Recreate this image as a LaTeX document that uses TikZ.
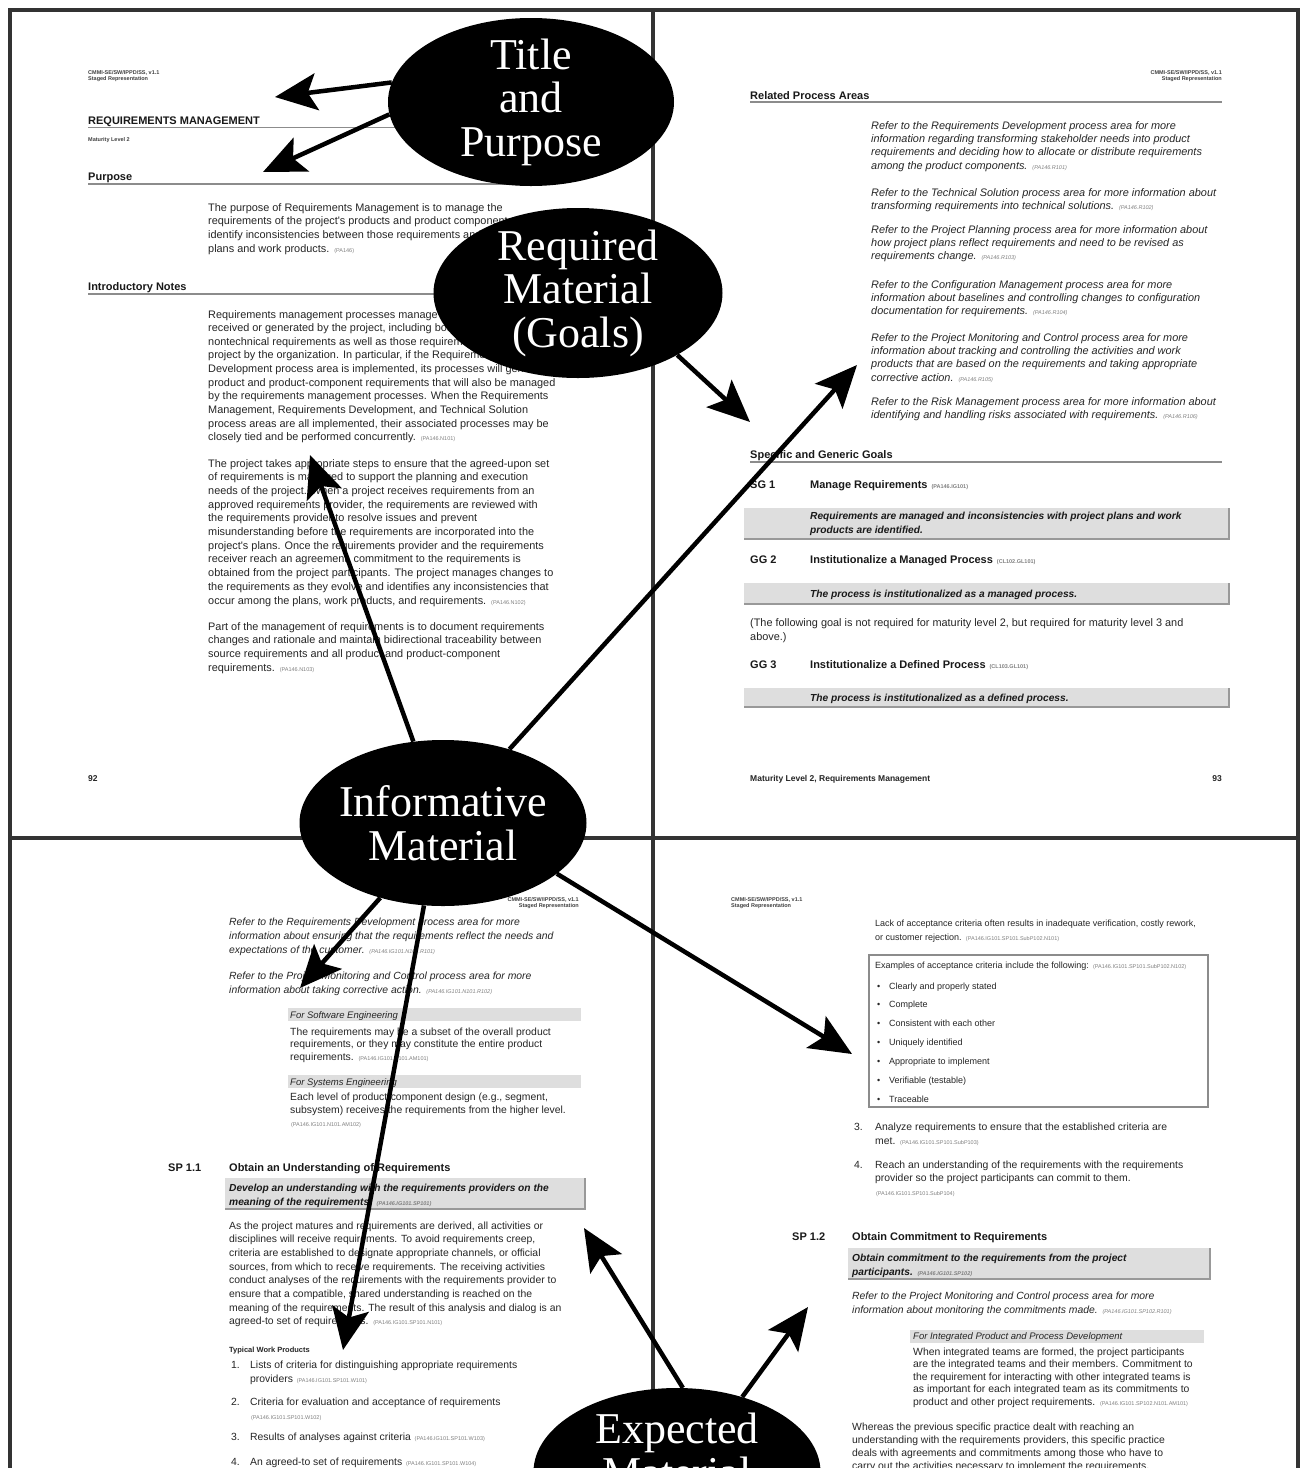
\documentclass[tikz,border=0pt]{standalone}
\usepackage{fontspec}
\newfontfamily\docsans{Liberation Sans}
\newfontfamily\calloutserif{Liberation Serif}
\usetikzlibrary{arrows.meta,shapes.geometric}

% small grey paragraph identifiers
\newcommand\pacode[1]{{\fontsize{5.5}{6}\selectfont\color{black!50}\,(#1)}}
% a block of text lines, one node per line: name, x, first baseline, line step, style, lines
\newcommand\txtlines[6]{%
  \foreach \t [count=\i] in {#6}{%
    \node[#5,anchor=base west] (#1-\i) at (#2,{#3+(\i-1)*#4}) {\t};}}

\tikzset{
  x=1pt, y=-1pt,
  every node/.style={inner sep=0pt},
  bodytxt/.style={font=\docsans\fontsize{10.9}{13}\selectfont, text=black!85},
  bodyit/.style={font=\docsans\itshape\fontsize{10.9}{13}\selectfont, text=black!85},
  lowtxt/.style={font=\docsans\fontsize{10.4}{13}\selectfont, text=black!85},
  lowit/.style={font=\docsans\itshape\fontsize{10.4}{13}\selectfont, text=black!85},
  boxtxt/.style={font=\docsans\fontsize{9}{11}\selectfont, text=black!85},
  boxit/.style={font=\docsans\itshape\fontsize{9.5}{11}\selectfont, text=black!85},
  headtxt/.style={font=\docsans\bfseries\fontsize{11}{13}\selectfont, text=black!90},
  boldit/.style={font=\docsans\bfseries\itshape\fontsize{10.2}{13}\selectfont, text=black!90},
  tinytxt/.style={font=\docsans\bfseries\fontsize{5.5}{6}\selectfont, text=black!75},
  foottxt/.style={font=\docsans\bfseries\fontsize{8.5}{10}\selectfont, text=black!85},
  secrule/.style={draw=black!45, line width=1.4pt},
  shade/.style={fill=black!13},
  shadeedge/.style={draw=black!40, line width=1.3pt},
  frameline/.style={draw=black!80, line width=3.5pt},
  ellnode/.style={ellipse, fill=black, text=white, align=center,
    inner xsep=-8pt, inner ysep=-6pt,
    font=\calloutserif\fontsize{44}{43.5}\selectfont},
  pointer/.style={draw=black, line width=4.5pt,
    -{Stealth[length=42pt,width=37pt,inset=9pt]}},
}

\begin{document}
\begin{tikzpicture}
\useasboundingbox (0,0) rectangle (1303,1468);
\clip (0,0) rectangle (1303,1468);
\fill[white] (0,0) rectangle (1303,1468);

% ---------------- page 92 (upper left) ----------------
\node[tinytxt,anchor=base west] (p92-h1) at (88,74) {CMMI-SE/SW/IPPD/SS, v1.1};
\node[tinytxt,anchor=base west] (p92-h2) at (88,80.5) {Staged Representation};
\node[headtxt,anchor=base west] (p92-title) at (88,124) {REQUIREMENTS MANAGEMENT};
\draw[secrule] (88,127.5) -- (556,127.5);
\node[tinytxt,anchor=base west] (p92-ml) at (88,141) {Maturity Level 2};
\node[headtxt,anchor=base west] (p92-purp) at (88,180) {Purpose};
\draw[secrule] (88,184) -- (556,184);
\txtlines{p92a}{208}{211}{13.7}{bodytxt}{
 {The purpose of Requirements Management is to manage the},
 {requirements of the project's products and product components and to},
 {identify inconsistencies between those requirements and the project's},
 {plans and work products. \pacode{PA146}}}
\node[headtxt,anchor=base west] (p92-intro) at (88,290) {Introductory Notes};
\draw[secrule] (88,294) -- (556,294);
\txtlines{p92b}{208}{318}{13.65}{bodytxt}{
 {Requirements management processes manage all requirements},
 {received or generated by the project, including both technical and},
 {nontechnical requirements as well as those requirements levied on the},
 {project by the organization. In particular, if the Requirements},
 {Development process area is implemented, its processes will generate},
 {product and product-component requirements that will also be managed},
 {by the requirements management processes. When the Requirements},
 {Management, Requirements Development, and Technical Solution},
 {process areas are all implemented, their associated processes may be},
 {closely tied and be performed concurrently. \pacode{PA146.N101}}}
\txtlines{p92c}{208}{467}{13.7}{bodytxt}{
 {The project takes appropriate steps to ensure that the agreed-upon set},
 {of requirements is managed to support the planning and execution},
 {needs of the project. When a project receives requirements from an},
 {approved requirements provider, the requirements are reviewed with},
 {the requirements provider to resolve issues and prevent},
 {misunderstanding before the requirements are incorporated into the},
 {project's plans. Once the requirements provider and the requirements},
 {receiver reach an agreement, commitment to the requirements is},
 {obtained from the project participants. The project manages changes to},
 {the requirements as they evolve and identifies any inconsistencies that},
 {occur among the plans, work products, and requirements. \pacode{PA146.N102}}}
\txtlines{p92d}{208}{630}{13.7}{bodytxt}{
 {Part of the management of requirements is to document requirements},
 {changes and rationale and maintain bidirectional traceability between},
 {source requirements and all product and product-component},
 {requirements. \pacode{PA146.N103}}}
\node[foottxt,anchor=base west] (p92-num) at (88,781) {92};

% ---------------- page 93 (upper right) ----------------
\node[tinytxt,anchor=base east] (p93-h1) at (1222,74) {CMMI-SE/SW/IPPD/SS, v1.1};
\node[tinytxt,anchor=base east] (p93-h2) at (1222,80.5) {Staged Representation};
\node[headtxt,anchor=base west] (p93-rel) at (750,99) {Related Process Areas};
\draw[secrule] (750,102) -- (1222,102);
\txtlines{p93a}{871}{129}{13.4}{bodyit}{
 {Refer to the Requirements Development process area for more},
 {information regarding transforming stakeholder needs into product},
 {requirements and deciding how to allocate or distribute requirements},
 {among the product components. \pacode{PA146.R101}}}
\txtlines{p93b}{871}{196}{13.4}{bodyit}{
 {Refer to the Technical Solution process area for more information about},
 {transforming requirements into technical solutions. \pacode{PA146.R102}}}
\txtlines{p93c}{871}{233}{13.4}{bodyit}{
 {Refer to the Project Planning process area for more information about},
 {how project plans reflect requirements and need to be revised as},
 {requirements change. \pacode{PA146.R103}}}
\txtlines{p93d}{871}{288}{13.4}{bodyit}{
 {Refer to the Configuration Management process area for more},
 {information about baselines and controlling changes to configuration},
 {documentation for requirements. \pacode{PA146.R104}}}
\txtlines{p93e}{871}{341}{13.4}{bodyit}{
 {Refer to the Project Monitoring and Control process area for more},
 {information about tracking and controlling the activities and work},
 {products that are based on the requirements and taking appropriate},
 {corrective action. \pacode{PA146.R105}}}
\txtlines{p93f}{871}{405}{13.4}{bodyit}{
 {Refer to the Risk Management process area for more information about},
 {identifying and handling risks associated with requirements. \pacode{PA146.R106}}}
\node[headtxt,anchor=base west] (p93-goals) at (750,458) {Specific and Generic Goals};
\draw[secrule] (750,462) -- (1222,462);
\node[headtxt,anchor=base west] (p93-sg1) at (750,488) {SG 1};
\node[headtxt,anchor=base west] (p93-sg1t) at (810,488) {Manage Requirements \pacode{PA146.IG101}};
\fill[shade] (744,508) rectangle (1229,539);
\draw[shadeedge] (744,539) -- (1229,539) -- (1229,508);
\txtlines{p93g}{810}{519}{14.5}{boldit}{
 {Requirements are managed and inconsistencies with project plans and work},
 {products are identified.}}
\node[headtxt,anchor=base west] (p93-gg2) at (750,563) {GG 2};
\node[headtxt,anchor=base west] (p93-gg2t) at (810,563) {Institutionalize a Managed Process \pacode{CL102.GL101}};
\fill[shade] (744,583) rectangle (1229,604);
\draw[shadeedge] (744,604) -- (1229,604) -- (1229,583);
\node[boldit,anchor=base west] (p93-gg2s) at (810,597) {The process is institutionalized as a managed process.};
\txtlines{p93h}{750}{626}{14}{bodytxt}{
 {(The following goal is not required for maturity level 2, but required for maturity level 3 and},
 {above.)}}
\node[headtxt,anchor=base west] (p93-gg3) at (750,668) {GG 3};
\node[headtxt,anchor=base west] (p93-gg3t) at (810,668) {Institutionalize a Defined Process \pacode{CL103.GL101}};
\fill[shade] (744,688) rectangle (1229,707);
\draw[shadeedge] (744,707) -- (1229,707) -- (1229,688);
\node[boldit,anchor=base west] (p93-gg3s) at (810,701) {The process is institutionalized as a defined process.};
\node[foottxt,anchor=base west] (p93-foot) at (750,781) {Maturity Level 2, Requirements Management};
\node[foottxt,anchor=base east] (p93-num) at (1222,781) {93};

% ---------------- lower left page ----------------
\node[tinytxt,anchor=base east] (p94-h1) at (579,901) {CMMI-SE/SW/IPPD/SS, v1.1};
\node[tinytxt,anchor=base east] (p94-h2) at (579,907.5) {Staged Representation};
\txtlines{p94a}{229}{925}{14}{lowit}{
 {Refer to the Requirements Development process area for more},
 {information about ensuring that the requirements reflect the needs and},
 {expectations of the customer. \pacode{PA146.IG101.N101.R101}}}
\txtlines{p94b}{229}{979}{14}{lowit}{
 {Refer to the Project Monitoring and Control process area for more},
 {information about taking corrective action. \pacode{PA146.IG101.N101.R102}}}
\fill[shade] (288,1008) rectangle (581,1021);
\node[boxit,anchor=base west] (p94-sw) at (290,1018) {For Software Engineering};
\txtlines{p94c}{290}{1035}{12.5}{lowtxt}{
 {The requirements may be a subset of the overall product},
 {requirements, or they may constitute the entire product},
 {requirements. \pacode{PA146.IG101.N101.AM101}}}
\fill[shade] (288,1075) rectangle (581,1088);
\node[boxit,anchor=base west] (p94-se) at (290,1085) {For Systems Engineering};
\txtlines{p94d}{290}{1100}{13}{lowtxt}{
 {Each level of product-component design (e.g., segment,},
 {subsystem) receives the requirements from the higher level.},
 {\pacode{PA146.IG101.N101.AM102}}}
\node[headtxt,anchor=base west] (p94-sp) at (168,1171) {SP 1.1};
\node[headtxt,anchor=base west] (p94-spt) at (229,1171) {Obtain an Understanding of Requirements};
\fill[shade] (225,1178) rectangle (585,1209);
\draw[shadeedge] (225,1209) -- (585,1209) -- (585,1178);
\txtlines{p94e}{229}{1191}{14.3}{boldit}{
 {Develop an understanding with the requirements providers on the},
 {meaning of the requirements. \pacode{PA146.IG101.SP101}}}
\txtlines{p94f}{229}{1229}{13.7}{lowtxt}{
 {As the project matures and requirements are derived, all activities or},
 {disciplines will receive requirements. To avoid requirements creep,},
 {criteria are established to designate appropriate channels, or official},
 {sources, from which to receive requirements. The receiving activities},
 {conduct analyses of the requirements with the requirements provider to},
 {ensure that a compatible, shared understanding is reached on the},
 {meaning of the requirements. The result of this analysis and dialog is an},
 {agreed-to set of requirements. \pacode{PA146.IG101.SP101.N101}}}
\node[font=\docsans\bfseries\fontsize{7.5}{9}\selectfont,text=black!85,anchor=base west] (p94-twp) at (229,1352) {Typical Work Products};
\node[lowtxt,anchor=base west] (p94-n1) at (231,1368) {1.};
\txtlines{p94g}{250}{1368}{14}{lowtxt}{
 {Lists of criteria for distinguishing appropriate requirements},
 {providers \pacode{PA146.IG101.SP101.W101}}}
\node[lowtxt,anchor=base west] (p94-n2) at (231,1405) {2.};
\txtlines{p94h}{250}{1405}{14}{lowtxt}{
 {Criteria for evaluation and acceptance of requirements},
 {\pacode{PA146.IG101.SP101.W102}}}
\node[lowtxt,anchor=base west] (p94-n3) at (231,1440) {3.};
\node[lowtxt,anchor=base west] (p94-w3) at (250,1440) {Results of analyses against criteria \pacode{PA146.IG101.SP101.W103}};
\node[lowtxt,anchor=base west] (p94-n4) at (231,1465) {4.};
\node[lowtxt,anchor=base west] (p94-w4) at (250,1465) {An agreed-to set of requirements \pacode{PA146.IG101.SP101.W104}};

% ---------------- lower right page ----------------
\node[tinytxt,anchor=base west] (p95-h1) at (731,901) {CMMI-SE/SW/IPPD/SS, v1.1};
\node[tinytxt,anchor=base west] (p95-h2) at (731,907.5) {Staged Representation};
\txtlines{p95a}{875}{926}{14}{boxtxt}{
 {Lack of acceptance criteria often results in inadequate verification, costly rework,},
 {or customer rejection. \pacode{PA146.IG101.SP101.SubP102.N101}}}
\draw[draw=black!45, line width=1.6pt] (869,955) rectangle (1208,1107);
\node[boxtxt,anchor=base west] (p95-ex) at (875,968) {Examples of acceptance criteria include the following: \pacode{PA146.IG101.SP101.SubP102.N102}};
\foreach \t [count=\i] in {Clearly and properly stated, Complete, Consistent with each other,
  Uniquely identified, Appropriate to implement, Verifiable (testable), Traceable}{%
  \node[boxtxt,anchor=base west] (p95-b\i) at (877,{989+(\i-1)*18.9}) {\textbullet};
  \node[boxtxt,anchor=base west] (p95-c\i) at (889,{989+(\i-1)*18.9}) {\t};}
\node[lowtxt,anchor=base west] (p95-n3) at (854,1130) {3.};
\txtlines{p95b}{875}{1130}{14.5}{lowtxt}{
 {Analyze requirements to ensure that the established criteria are},
 {met. \pacode{PA146.IG101.SP101.SubP103}}}
\node[lowtxt,anchor=base west] (p95-n4) at (854,1168) {4.};
\txtlines{p95c}{875}{1168}{13.8}{lowtxt}{
 {Reach an understanding of the requirements with the requirements},
 {provider so the project participants can commit to them.},
 {\pacode{PA146.IG101.SP101.SubP104}}}
\node[headtxt,anchor=base west] (p95-sp) at (792,1240) {SP 1.2};
\node[headtxt,anchor=base west] (p95-spt) at (852,1240) {Obtain Commitment to Requirements};
\fill[shade] (848,1248) rectangle (1210,1279);
\draw[shadeedge] (848,1279) -- (1210,1279) -- (1210,1248);
\txtlines{p95d}{852}{1261}{14}{boldit}{
 {Obtain commitment to the requirements from the project},
 {participants. \pacode{PA146.IG101.SP102}}}
\txtlines{p95e}{852}{1299}{14}{lowit}{
 {Refer to the Project Monitoring and Control process area for more},
 {information about monitoring the commitments made. \pacode{PA146.IG101.SP102.R101}}}
\fill[shade] (910,1330) rectangle (1204,1343);
\node[boxit,anchor=base west] (p95-ippd) at (913,1339) {For Integrated Product and Process Development};
\txtlines{p95f}{913}{1355}{12.5}{lowtxt}{
 {When integrated teams are formed, the project participants},
 {are the integrated teams and their members. Commitment to},
 {the requirement for interacting with other integrated teams is},
 {as important for each integrated team as its commitments to},
 {product and other project requirements. \pacode{PA146.IG101.SP102.N101.AM101}}}
\txtlines{p95g}{852}{1430}{13.3}{lowtxt}{
 {Whereas the previous specific practice dealt with reaching an},
 {understanding with the requirements providers, this specific practice},
 {deals with agreements and commitments among those who have to},
 {carry out the activities necessary to implement the requirements.}}

% ---------------- page frames ----------------
\draw[frameline] (10,1500) -- (10,10) -- (1298,10) -- (1298,1500);
\draw[frameline] (653,10) -- (653,1500);
\draw[frameline] (10,838) -- (1298,838);

% ---------------- callout ellipses ----------------
\node[ellnode, minimum width=286pt, minimum height=168pt] (title) at (531,102) {Title\\and\\Purpose};
\node[ellnode, minimum width=289pt, minimum height=170pt] (required) at (578,293) {Required\\Material\\(Goals)};
\node[ellnode, minimum width=287pt, minimum height=166pt] (informative) at (443,823) {Informative\\Material};
\node[ellnode, minimum width=287pt, minimum height=168pt] (expected) at (677,1472) {Expected\\Material\\\mbox{}};

% ---------------- arrow targets ----------------
\coordinate (toTitle) at (275,97);
\coordinate (toPurpose) at (263,172);
\coordinate (toGoals) at (750,422);
\coordinate (toRelated) at (857,365);
\coordinate (toNotes) at (310,455);
\coordinate (toRefer) at (300,988);
\coordinate (toWork) at (343,1350);
\coordinate (toExamples) at (852,1054);
\coordinate (toPractice) at (584,1228);
\coordinate (toCommit) at (808,1307);

% ---------------- arrows ----------------
\draw[pointer] (title.172) -- (toTitle);
\draw[pointer] (title.185) -- (toPurpose);
\draw[pointer] (required.328) -- (toGoals);
\draw[pointer] (informative.48) -- (toRelated);
\draw[pointer] (informative.110) -- (toNotes);
\draw[pointer] (informative.230) -- (toRefer);
\draw[pointer] (informative.257) -- (toWork);
\draw[pointer] (informative.336) -- (toExamples);
\draw[pointer] (expected.86) -- (toPractice);
\draw[pointer] (expected.49) -- (toCommit);
\end{tikzpicture}
\end{document}
